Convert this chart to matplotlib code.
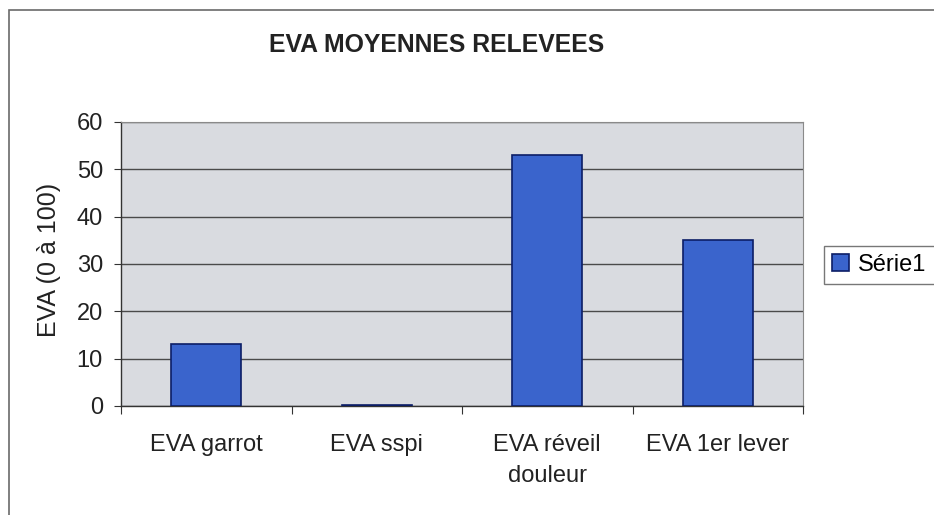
import numpy as np
import matplotlib.pyplot as plt
from matplotlib.patches import Rectangle

plt.rcParams['font.family'] = ['Liberation Sans', 'DejaVu Sans']

categories = ["EVA garrot", "EVA sspi", "EVA réveil\ndouleur", "EVA 1er lever"]
values = [13, 0.3, 53, 35]
y_ticks = [0, 10, 20, 30, 40, 50, 60]
series_name = "Série1"

W, H = 934, 515
fig = plt.figure(figsize=(W / 100, H / 100), dpi=100)

# outer chart frame (right and bottom edges fall outside the picture)
fig.patches.append(Rectangle((9 / W, -0.05), 1.2, 1.05 - 10 / H, transform=fig.transFigure,
                             fill=False, edgecolor='#6a6a6a', linewidth=1.2))

# plot area in pixels: left 121, right 803, top 122, bottom 406
ax = fig.add_axes([121 / W, 1 - 406 / H, (803 - 121) / W, (406 - 122) / H])
ax.set_facecolor('#d9dbe0')

x = np.arange(len(categories))
ax.bar(x, values, width=0.41, color='#3a64cc', edgecolor='#0c1e66', linewidth=1.2,
       label=series_name, zorder=3)

ax.set_xlim(-0.5, len(categories) - 0.5)
ax.set_ylim(0, 60)
ax.set_yticks(y_ticks)
ax.yaxis.grid(True, color='#4a4a4a', linewidth=1.0, zorder=1)
ax.tick_params(axis='y', labelsize=17, length=5, color='#333333', pad=8, labelcolor='#222222')

# category labels centred, ticks between categories
ax.set_xticks(np.arange(len(categories) + 1) - 0.5)
ax.set_xticklabels([])
ax.tick_params(axis='x', length=6, color='#333333', direction='out')
for i, c in enumerate(categories):
    ax.text(i, -5.9, c, ha='center', va='top', fontsize=17, color='#222222', linespacing=1.55)

for s in ['top', 'right']:
    ax.spines[s].set_color('#8a8a8a')
    ax.spines[s].set_linewidth(0.8)
for s in ['left', 'bottom']:
    ax.spines[s].set_color('#333333')
    ax.spines[s].set_linewidth(1.0)

fig.text(49 / W, 1 - 260 / H, "EVA (0 à 100)", rotation=90, ha='center', va='center',
         fontsize=18, color='#222222')

fig.text(437 / W, 1 - 45 / H, "EVA MOYENNES RELEVEES", ha='center', va='center',
         fontsize=17.8, fontweight='bold', color='#222222')

leg = ax.legend(loc='center left', bbox_to_anchor=(824 / W, 1 - 265 / H),
                bbox_transform=fig.transFigure, fontsize=17, frameon=True, fancybox=False,
                handlelength=0.7, handleheight=0.7, handletextpad=0.4, borderpad=0.35,
                borderaxespad=0)
leg.get_frame().set_edgecolor('#555555')
leg.get_frame().set_linewidth(1.0)

fig.savefig("out.png", dpi=100)
